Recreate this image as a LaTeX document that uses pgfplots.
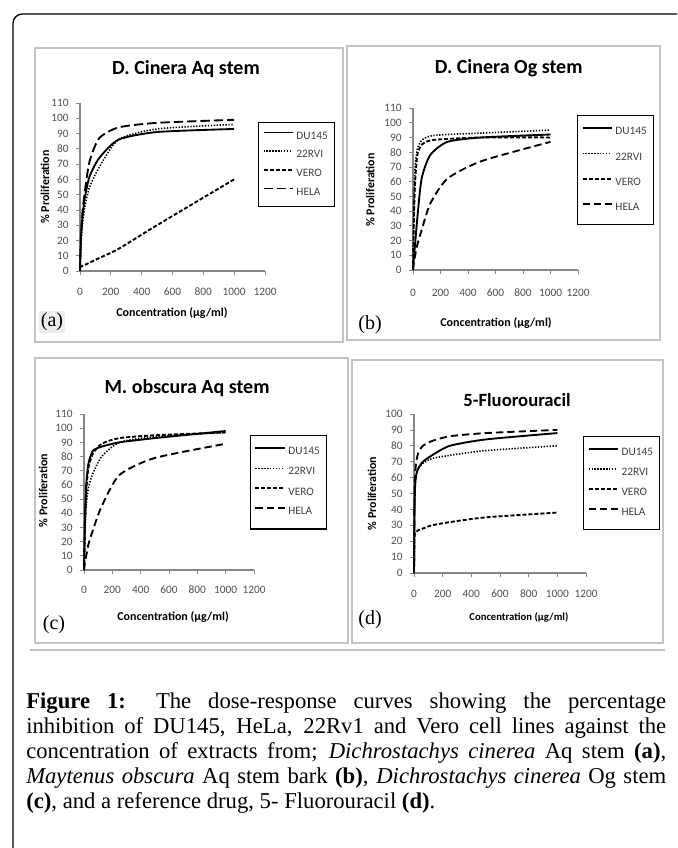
\documentclass[border=0pt]{standalone}
\usepackage{fontspec}
\setmainfont{Liberation Serif}
\newfontfamily\calfont{Carlito}
\usepackage{pgfplots}
\pgfplotsset{compat=1.18}
\definecolor{axgray}{RGB}{134,134,134}
\definecolor{boxgray}{RGB}{195,195,195}
\definecolor{tickcol}{RGB}{89,74,89}
\definecolor{legcol}{RGB}{64,64,64}
\def\u{0.75pt}
\pgfplotsset{
 panel/.style={
  scale only axis, anchor=south west,
  axis lines=left, axis line style={-, draw=axgray, line width=0.8pt},
  xmin=0, xmax=1200, ymin=0,
  xtick={0,200,400,600,800,1000,1200},
  tick align=outside, major tick length=3pt,
  tick style={draw=axgray, line width=0.6pt},
  /pgf/number format/assume math mode=true,
  /pgf/number format/1000 sep={},
  ticklabel style={font=\calfont\fontsize{8.5}{10}\selectfont, text=tickcol},
  yticklabel style={xshift=-2pt},
  xticklabel style={anchor=base, yshift=-15.5pt},
  title style={font=\calfont\bfseries\fontsize{15}{17}\selectfont, anchor=center},
  xlabel style={font=\calfont\bfseries\fontsize{9}{11}\selectfont, anchor=center},
  ylabel style={font=\calfont\bfseries\fontsize{9}{11}\selectfont, anchor=center},
  xlabel={Concentration (µg/ml)},
  ylabel={\% Proliferation},
  clip=false,
  legend cell align=left,
  legend image code/.code={\path (0pt,0pt); \draw[#1] (0pt,3pt) -- (22pt,3pt);},
  legend style={anchor=north west, draw=black, line width=0.9pt, fill=white,
     font=\calfont\fontsize{8.5}{10}\selectfont, text=legcol, inner xsep=3pt},
  every axis plot/.append style={black, line width=1.4pt, smooth, tension=0.4, no markers},
 },
 du/.style={solid},
 rv/.style={dash pattern=on 1pt off 1.2pt, line width=1.2pt},
 ve/.style={dash pattern=on 3pt off 1.5pt},
 he/.style={dash pattern=on 5.5pt off 3pt},
}
\begin{document}
\begin{tikzpicture}
\path[use as bounding box] (0,0) rectangle (677*\u,-848*\u);
\clip (0,0) rectangle (677*\u,-848*\u);
\fill[white] (0,0) rectangle (677*\u,-848*\u);
\draw[line width=1pt, rounded corners=7pt] (13*\u,-900*\u) -- (13*\u,-14*\u) -- (720*\u,-14*\u);
% panel boxes
\draw[boxgray, line width=1pt] (35*\u,-48*\u) rectangle (343*\u,-342*\u);
\draw[boxgray, line width=1pt] (347*\u,-46*\u) rectangle (660*\u,-340*\u);
\draw[boxgray, line width=1pt] (35*\u,-358*\u) rectangle (348*\u,-643*\u);
\draw[boxgray, line width=1pt] (352*\u,-360*\u) rectangle (663*\u,-643*\u);
\draw[boxgray, line width=0.8pt] (30*\u,-650*\u) -- (665*\u,-650*\u);

% (a)
\begin{axis}[panel, at={(80*\u,-271*\u)}, width=138.75pt, height=126pt,
 ymax=110, ytick={0,10,...,110},
 title={D. Cinera Aq stem}, title style={at={(axis description cs:0.573,1.155)}},
 xlabel style={at={(axis description cs:0.497,-0.25)}},
 ylabel style={at={(axis description cs:-0.19,0.5)}},
 legend style={at={(axis description cs:0.962,0.887)}, inner ysep=5pt, row sep=3pt}]
\addplot[du] coordinates {(0,0)(3.9,15)(7.8,25)(15.6,35)(31.25,48)(62.5,62)(125,74)(250,86)(500,91)(1000,93)};
\addlegendentry{DU145}
\addplot[rv] coordinates {(0,0)(3.9,12)(7.8,20)(15.6,30)(31.25,42)(62.5,55)(125,68)(250,86)(500,93)(1000,96)};
\addlegendentry{22RVI}
\addplot[ve] coordinates {(0,2)(3.9,2.5)(7.8,3)(15.6,3.3)(31.25,4)(62.5,5.5)(125,8.5)(250,14.5)(500,30)(1000,60)};
\addlegendentry{VERO}
\addplot[he, dash pattern=on 7pt off 3pt] coordinates {(0,0)(3.9,15)(7.8,25)(15.6,38)(31.25,52)(62.5,72)(125,87)(250,94)(500,97)(1000,99)};
\addlegendentry{HELA}
\end{axis}

% (b)
\begin{axis}[panel, at={(413*\u,-270*\u)}, width=123.75pt, height=121.5pt,
 ymax=110, ytick={0,10,...,110},
 xticklabel style={yshift=-1pt},
 title={D. Cinera Og stem}, title style={at={(axis description cs:0.58,1.198)}},
 xlabel style={at={(axis description cs:0.503,-0.327)}},
 ylabel style={at={(axis description cs:-0.26,0.494)}},
 legend style={at={(axis description cs:0.994,0.957)}, inner ysep=7pt, row sep=8pt}]
\addplot[du] coordinates {(0,0)(3.9,5)(7.8,10)(15.6,18)(31.25,35)(62.5,62)(125,78)(250,87)(500,90)(1000,92)};
\addlegendentry{DU145}
\addplot[rv] coordinates {(0,0)(3.9,30)(7.8,50)(15.6,70)(31.25,82)(62.5,88)(125,91)(250,92)(500,93)(1000,95)};
\addlegendentry{22RVI}
\addplot[ve] coordinates {(0,0)(3.9,20)(7.8,40)(15.6,60)(31.25,78)(62.5,85)(125,88)(250,89)(500,90)(1000,90)};
\addlegendentry{VERO}
\addplot[he] coordinates {(0,0)(3.9,3)(7.8,6)(15.6,10)(31.25,17)(62.5,27)(125,45)(250,62)(500,74)(1000,87)};
\addlegendentry{HELA}
\end{axis}

% (c)
\begin{axis}[panel, at={(84*\u,-570*\u)}, width=127.5pt, height=117pt,
 ymax=110, ytick={0,10,...,110},
 xticklabel style={yshift=1pt},
 title={M. obscura Aq stem}, title style={at={(axis description cs:0.606,1.116)}},
 xlabel style={at={(axis description cs:0.524,-0.30)}},
 ylabel style={at={(axis description cs:-0.24,0.51)}},
 legend style={at={(axis description cs:0.976,0.865)}, inner ysep=7pt, row sep=4pt}]
\addplot[du] coordinates {(0,0)(3.9,20)(7.8,40)(15.6,60)(31.25,75)(62.5,84)(125,87)(250,90)(500,93)(1000,98)};
\addlegendentry{DU145}
\addplot[rv] coordinates {(0,0)(3.9,15)(7.8,30)(15.6,45)(31.25,58)(62.5,68)(125,80)(250,90)(500,94)(1000,97)};
\addlegendentry{22RVI}
\addplot[ve] coordinates {(0,0)(3.9,18)(7.8,35)(15.6,55)(31.25,72)(62.5,82)(125,89)(250,93)(500,95)(1000,97)};
\addlegendentry{VERO}
\addplot[he] coordinates {(0,0)(3.9,3)(7.8,6)(15.6,10)(31.25,18)(62.5,28)(125,45)(250,67)(500,79)(1000,89)};
\addlegendentry{HELA}
\end{axis}

% (d)
\begin{axis}[panel, at={(414*\u,-573*\u)}, width=129pt, height=119.25pt,
 ymax=100, ytick={0,10,...,100},
 title={5-Fluorouracil}, title style={at={(axis description cs:0.599,1.038)}, font=\calfont\bfseries\fontsize{14}{16}\selectfont},
 xlabel style={at={(axis description cs:0.61,-0.277)}, font=\calfont\bfseries\fontsize{8}{10}\selectfont},
 ylabel style={at={(axis description cs:-0.244,0.50)}},
 legend style={at={(axis description cs:0.983,0.862)}, inner ysep=7pt, row sep=4pt}]
\addplot[du] coordinates {(0,0)(3.9,40)(7.8,55)(15.6,62)(31.25,66)(62.5,70)(125,74)(250,80)(500,84)(1000,88)};
\addlegendentry{DU145}
\addplot[rv] coordinates {(0,0)(3.9,45)(7.8,55)(15.6,62)(31.25,66)(62.5,69)(125,72)(250,74)(500,77)(1000,80)};
\addlegendentry{22RVI}
\addplot[ve] coordinates {(0,0)(3.9,22)(7.8,25)(15.6,26)(31.25,27)(62.5,28)(125,30)(250,32)(500,35)(1000,38)};
\addlegendentry{VERO}
\addplot[he] coordinates {(0,0)(3.9,50)(7.8,62)(15.6,70)(31.25,76)(62.5,80)(125,83)(250,86)(500,88)(1000,90)};
\addlegendentry{HELA}
\end{axis}

% panel labels
\node[font=\fontsize{15}{17}\selectfont, fill=black!7, inner sep=1.5pt] at (52*\u,-322*\u) {(a)};
\node[font=\fontsize{15}{17}\selectfont, inner sep=1.5pt] at (370*\u,-325*\u) {(b)};
\node[font=\fontsize{15}{17}\selectfont, inner sep=1.5pt] at (54*\u,-625*\u) {(c)};
\node[font=\fontsize{15}{17}\selectfont, inner sep=1.5pt] at (370*\u,-620*\u) {(d)};

% caption
\begin{scope}[every node/.style={anchor=base west, inner sep=0pt, font=\fontsize{17}{19}\selectfont}]
\node at (26*\u,-708*\u) {\makebox[480pt][s]{\textbf{Figure 1:} The dose-response curves showing the percentage}};
\node at (26*\u,-733*\u) {\makebox[480pt][s]{inhibition of DU145, HeLa, 22Rv1 and Vero cell lines against the}};
\node at (26*\u,-758*\u) {\makebox[480pt][s]{concentration of extracts from; \textit{Dichrostachys cinerea} Aq stem \textbf{(a)},}};
\node at (26*\u,-783*\u) {\makebox[480pt][s]{\textit{Maytenus obscura} Aq stem bark \textbf{(b)}, \textit{Dichrostachys cinerea} Og stem}};
\node at (26*\u,-808*\u) {\textbf{(c)}, and a reference drug, 5- Fluorouracil \textbf{(d)}.};
\end{scope}
\end{tikzpicture}
\end{document}
